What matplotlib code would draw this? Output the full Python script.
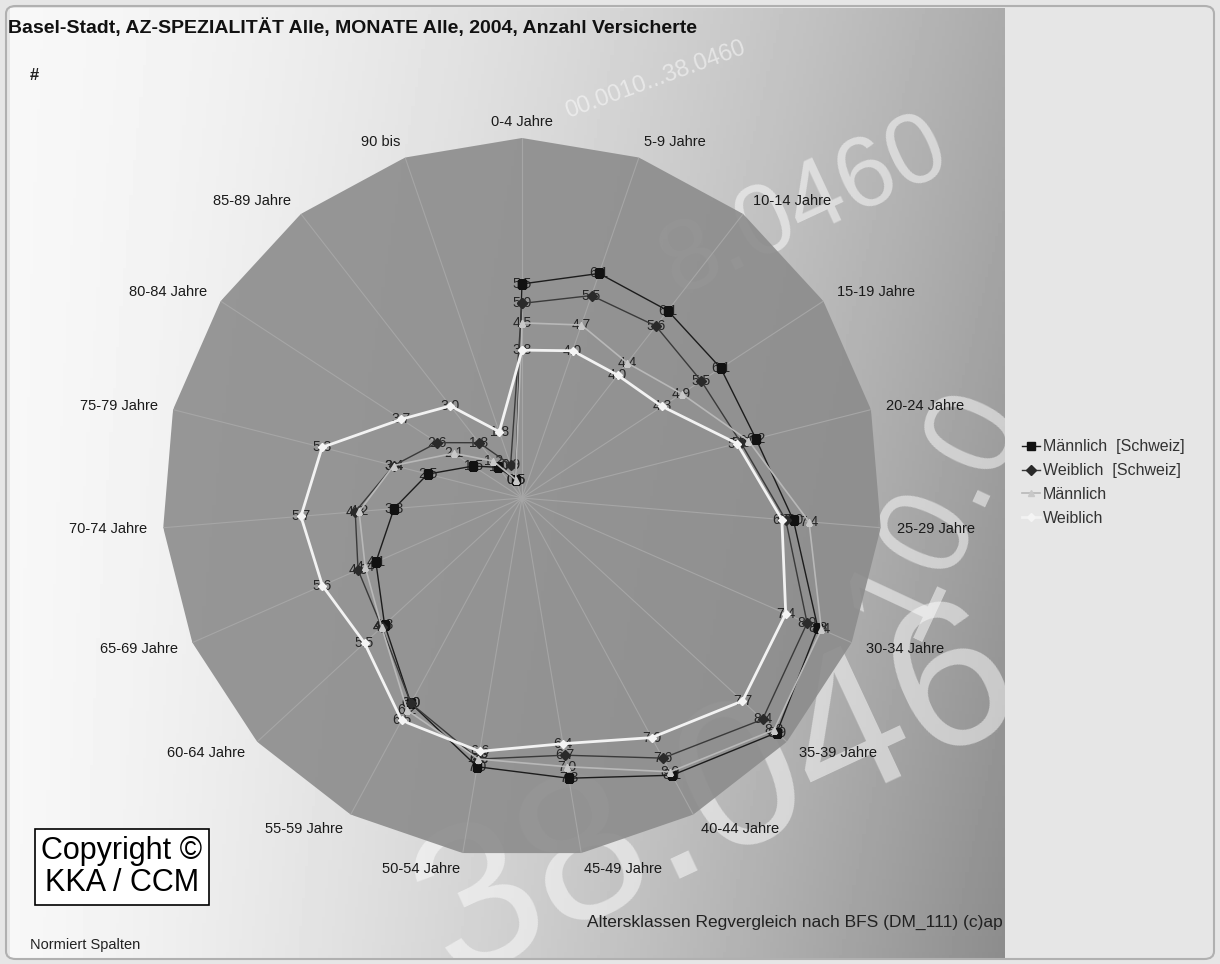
#!/usr/bin/env python3
# Radar chart: Basel-Stadt insured persons by age class, 2004 (normalised columns)

import numpy as np
import matplotlib
matplotlib.use("Agg")
import matplotlib.pyplot as plt
from matplotlib.patches import FancyBboxPatch

plt.rcParams['font.family'] = ['Liberation Sans', 'DejaVu Sans']

categories = ["0-4 Jahre", "5-9 Jahre", "10-14 Jahre", "15-19 Jahre", "20-24 Jahre",
              "25-29 Jahre", "30-34 Jahre", "35-39 Jahre", "40-44 Jahre", "45-49 Jahre",
              "50-54 Jahre", "55-59 Jahre", "60-64 Jahre", "65-69 Jahre", "70-74 Jahre",
              "75-79 Jahre", "80-84 Jahre", "85-89 Jahre", "90 bis"]

maennlich_ch = [5.5, 6.1, 6.1, 6.1, 6.2, 7.0, 8.3, 8.9, 8.1, 7.3, 7.0, 6.0, 4.8, 4.1, 3.3, 2.5, 1.5, 1.0, 0.5]
weiblich_ch = [5.0, 5.5, 5.6, 5.5, 5.8, 6.8, 8.0, 8.4, 7.6, 6.7, 6.8, 6.0, 4.9, 4.6, 4.3, 3.4, 2.6, 1.8, 0.9]
maennlich = [4.5, 4.7, 4.4, 4.9, 6.0, 7.4, 8.4, 8.8, 8.0, 7.0, 6.8, 6.2, 4.9, 4.4, 4.2, 3.4, 2.1, 1.2, 0.5]
weiblich = [3.8, 4.0, 4.0, 4.3, 5.7, 6.7, 7.4, 7.7, 7.0, 6.4, 6.6, 6.5, 5.5, 5.6, 5.7, 5.3, 3.7, 3.0, 1.8]

series_names = ["Männlich  [Schweiz]", "Weiblich  [Schweiz]", "Männlich", "Weiblich"]

title = "Basel-Stadt, AZ-SPEZIALITÄT Alle, MONATE Alle, 2004, Anzahl Versicherte"

RMAX = 9.25
W, H = 1220, 964

fig = plt.figure(figsize=(W / 100, H / 100), dpi=100)
fig.patch.set_facecolor('#e6e6e6')

# background panel with gradient and watermark digits
bg = fig.add_axes([10 / W, 6 / H, 995 / W, 950 / H])
xx, yy = np.meshgrid(np.linspace(0, 1, 300), np.linspace(0, 1, 300))
grad = 0.97 - 0.30 * xx ** 1.6 - 0.12 * xx * yy
bg.imshow(grad, extent=[0, 1, 0, 1], aspect='auto', cmap='gray', vmin=0, vmax=1, origin='upper')
bg.set_xlim(0, 1)
bg.set_ylim(0, 1)
bg.axis('off')
wm = dict(color='white', alpha=0.5, transform=bg.transAxes, clip_on=True,
          ha='left', va='baseline')
bg.text(0.38, -0.02, "38.046", fontsize=150, rotation=25, **wm)
bg.text(0.64, 0.70, "8.0460", fontsize=72, rotation=25, **wm)
bg.text(0.555, 0.885, "00.0010...38.0460", fontsize=17, rotation=20, **wm)
bg.text(0.82, 0.35, "10.0", fontsize=95, rotation=65, **wm)

# whole-figure rounded frame
fig.patches.append(FancyBboxPatch((6 / W, 5 / H), 1208 / W, 953 / H,
                                  boxstyle="round,pad=0,rounding_size=0.008",
                                  transform=fig.transFigure, fill=False,
                                  edgecolor='#b0b0b0', lw=1.5))

# radar
ax = fig.add_axes([162 / W, 1 - 858 / H, 720 / W, 720 / H], projection='polar')
ax.patch.set_alpha(0)
ax.spines['polar'].set_visible(False)
ax.set_theta_zero_location('N')
ax.set_theta_direction(-1)

n = len(categories)
theta = np.arange(n) * 2 * np.pi / n
theta_c = np.append(theta, theta[0])

ax.fill(theta_c, [RMAX] * (n + 1), color='#8c8c8c', alpha=0.9, lw=0, zorder=0)
ax.set_ylim(0, RMAX)
ax.set_yticks([])
ax.set_xticks(theta)
ax.set_xticklabels([])
ax.tick_params(length=0)
ax.grid(axis='x', color='#a6a6a6', lw=0.8)
ax.grid(axis='y', visible=False)

styles = [
    dict(color='#1c1c1c', lw=1.0, marker='s', ms=6, mfc='#111111', mec='#111111'),
    dict(color='#3a3a3a', lw=1.0, marker='D', ms=5, mfc='#2a2a2a', mec='#2a2a2a'),
    dict(color='#b8b8b8', lw=1.2, marker='^', ms=5, mfc='#c8c8c8', mec='#c8c8c8'),
    dict(color='#f2f2f2', lw=2.0, marker='D', ms=4, mfc='#f4f4f4', mec='#f4f4f4'),
]
data = [maennlich_ch, weiblich_ch, maennlich, weiblich]

handles = []
for vals, name, st in zip(data, series_names, styles):
    vc = np.append(vals, vals[0])
    h, = ax.plot(theta_c, vc, zorder=4, label=name, **st)
    handles.append(h)
    for t, v in zip(theta, vals):
        ax.text(t, v, f"{v:.1f}", ha='center', va='center', fontsize=10,
                color='#262626', zorder=3)

label_r = RMAX * 376 / 360
for t, cat in zip(theta, categories):
    s = np.sin(t)
    ha = 'left' if s > 0.05 else ('right' if s < -0.05 else 'center')
    ax.text(t, label_r, cat, ha=ha, va='center', fontsize=10.5, color='#1a1a1a')

# texts
fig.text(8 / W, 1 - 28 / H, title, fontsize=14, fontweight='bold', va='center', color='#111111')
fig.text(30 / W, 1 - 75 / H, "#", fontsize=12, fontweight='bold', va='center', color='#222222')

fig.legend(handles=handles, labels=series_names, loc='upper left',
           bbox_to_anchor=(1008 / W, 1 - 425 / H), frameon=False, fontsize=11.5,
           handlelength=1.1, handletextpad=0.2, labelspacing=0.55, labelcolor='#333333')

fig.text(122 / W, 1 - 867 / H, "Copyright ©\nKKA / CCM", ha='center', va='center',
         fontsize=22, linespacing=1.1, color='black',
         bbox=dict(facecolor='white', edgecolor='black', boxstyle='square,pad=0.22', lw=1.2))

fig.text(1003 / W, 1 - 922 / H, "Altersklassen Regvergleich nach BFS (DM_111) (c)ap",
         ha='right', va='center', fontsize=12.5, color='#222222')
fig.text(30 / W, 1 - 945 / H, "Normiert Spalten", ha='left', va='center', fontsize=10.5,
         color='#222222')

fig.savefig("out.png", dpi=100, facecolor=fig.get_facecolor())
print("saved out.png")
